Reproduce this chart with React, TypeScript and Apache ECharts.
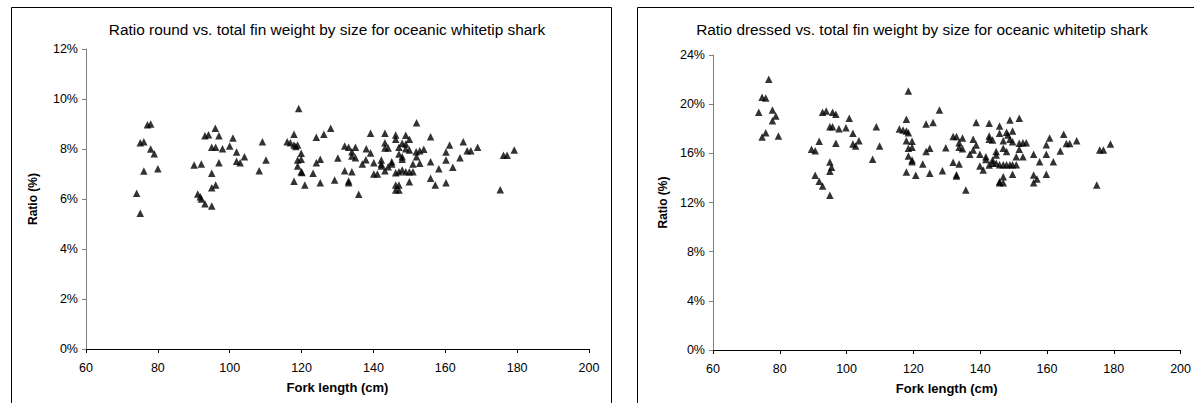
import React, { useEffect, useRef } from "react";
import * as echarts from "echarts";

// Fork length (cm) and ratio (%) – round weight chart
const roundLength = [
  74.1, 75.1, 75.1, 76.1, 76.1, 77.1, 78.0, 78.0, 79.0, 80.0,
  90.1, 92.1, 91.1, 91.8, 92.1, 93.1, 95.0, 93.1, 94.1, 96.0,
  97.0, 95.0, 96.1, 98.0, 95.0, 95.0, 96.1, 97.0, 100.0, 100.9,
  101.9, 101.9, 102.9, 104.1, 108.2, 109.1, 110.1, 116.0, 116.9, 117.9,
  117.9, 118.9, 118.4, 119.9, 118.9, 119.9, 118.9, 119.9, 120.1, 117.9,
  120.9, 123.2, 124.1, 124.1, 125.2, 125.2, 126.2, 128.1, 129.2, 130.1,
  132.0, 133.1, 135.0, 132.0, 133.1, 133.1, 134.0, 134.0, 135.0, 134.0,
  135.9, 119.2, 152.0, 139.2, 143.2, 146.2, 149.0, 146.2, 150.0, 155.9,
  143.2, 148.0, 149.0, 138.0, 143.2, 144.1, 147.1, 149.0, 150.0, 147.1,
  148.0, 148.0, 151.9, 152.9, 154.0, 152.0, 161.2, 165.0, 166.1, 167.1,
  169.0, 160.2, 179.2, 176.2, 177.2, 175.3, 160.2, 164.1, 162.1, 160.2,
  158.2, 157.2, 155.9, 155.9, 136.9, 139.2, 140.1, 140.1, 141.1, 142.2,
  142.2, 142.2, 143.2, 144.1, 145.1, 145.1, 146.2, 147.1, 148.0, 149.0,
  150.0, 151.0, 151.0, 152.9, 150.0, 146.2, 147.1, 146.2, 147.1, 137.9
];
const roundRatio = [
  6.23, 5.43, 8.25, 8.29, 7.12, 8.97, 9.0, 8.0, 7.81, 7.21,
  7.36, 7.4, 6.2, 6.09, 6.0, 5.81, 5.72, 8.53, 8.57, 8.83,
  8.53, 8.07, 8.07, 8.01, 7.03, 6.45, 6.56, 7.45, 8.12, 8.44,
  7.88, 7.51, 7.45, 7.69, 7.13, 8.29, 7.56, 8.29, 8.25, 8.59,
  8.16, 8.16, 8.1, 7.83, 7.56, 7.59, 7.32, 7.09, 7.06, 6.71,
  6.56, 7.03, 8.47, 7.45, 7.59, 6.65, 8.59, 8.83, 6.76, 7.64,
  8.12, 8.07, 8.07, 7.13, 6.72, 6.65, 7.89, 7.72, 7.65, 7.09,
  6.19, 9.62, 9.05, 8.63, 8.63, 8.56, 8.55, 8.39, 8.39, 8.49,
  8.25, 8.23, 8.2, 8.01, 8.04, 8.04, 8.07, 8.01, 7.96, 7.8,
  7.69, 7.59, 7.89, 7.93, 7.99, 7.69, 8.16, 8.29, 7.93, 7.93,
  8.07, 7.88, 7.96, 7.75, 7.75, 6.37, 7.56, 7.65, 7.27, 6.65,
  7.21, 6.56, 6.83, 7.49, 7.4, 7.84, 7.45, 7.0, 7.0, 7.56,
  7.4, 7.32, 7.13, 7.29, 7.49, 7.4, 7.05, 7.09, 7.16, 7.09,
  7.09, 7.09, 7.4, 7.43, 6.69, 6.56, 6.56, 6.36, 6.36, 7.57
];

// Fork length (cm) and ratio (%) – dressed weight chart
const dressedLength = [
  73.7, 74.7, 75.8, 76.7, 77.8, 78.8, 77.8, 75.8, 74.7, 79.6,
  89.5, 90.6, 91.8, 90.6, 91.8, 92.8, 95.0, 95.0, 95.5, 95.0,
  92.8, 93.9, 95.8, 96.8, 95.0, 95.8, 97.7, 96.8, 99.8, 100.8,
  101.9, 101.9, 102.7, 103.7, 107.8, 108.9, 109.9, 115.8, 116.9, 117.9,
  118.5, 117.9, 118.5, 117.9, 119.6, 118.5, 119.6, 118.5, 119.6, 119.6,
  117.9, 120.7, 122.8, 123.8, 124.9, 123.8, 125.9, 124.9, 127.8, 128.7,
  129.7, 131.9, 132.9, 134.7, 133.7, 133.7, 134.7, 131.9, 133.7, 132.9,
  132.9, 135.7, 137.9, 136.9, 138.8, 137.9, 138.8, 139.9, 139.9, 140.9,
  141.7, 141.7, 142.7, 142.7, 143.7, 142.7, 142.7, 143.7, 144.8, 144.8,
  144.8, 143.7, 145.8, 145.8, 146.9, 147.9, 148.3, 148.9, 149.7, 148.9,
  149.7, 146.9, 147.9, 145.8, 146.9, 147.9, 148.9, 149.7, 150.8, 146.9,
  145.8, 146.9, 145.8, 149.7, 150.8, 151.7, 151.7, 152.8, 153.8, 151.7,
  152.8, 156.0, 156.0, 157.0, 156.0, 157.8, 159.8, 159.8, 159.8, 160.8,
  161.9, 164.0, 165.0, 165.8, 166.8, 168.9, 174.9, 175.8, 176.9, 179.0
];
const dressedRatio = [
  19.34, 20.56, 20.5, 22.02, 19.53, 19.04, 18.66, 17.68, 17.33, 17.41,
  16.33, 16.22, 16.98, 14.21, 13.72, 13.34, 12.58, 15.3, 14.86, 14.54,
  19.34, 19.45, 19.34, 19.18, 18.17, 18.17, 18.01, 16.82, 18.09, 18.85,
  17.63, 16.76, 16.6, 17.03, 15.52, 18.17, 16.6, 17.98, 17.9, 17.82,
  17.68, 18.77, 21.07, 17.03, 16.98, 16.41, 16.49, 15.79, 15.46, 15.32,
  14.48, 14.21, 15.13, 16.14, 16.41, 18.39, 18.5, 14.38, 19.53, 14.59,
  16.46, 17.36, 17.36, 17.25, 16.87, 16.49, 16.38, 15.27, 15.13, 14.26,
  14.16, 13.02, 17.14, 15.92, 18.5, 16.27, 16.68, 15.92, 14.97, 14.65,
  15.73, 15.5, 18.45, 17.41, 17.09, 17.14, 15.05, 15.46, 15.87, 16.14,
  15.19, 15.19, 18.23, 17.63, 17.03, 17.71, 17.49, 18.71, 17.82, 17.14,
  16.95, 16.41, 16.14, 15.08, 15.08, 15.08, 15.08, 15.08, 15.08, 14.1,
  13.69, 13.61, 13.61, 14.29, 15.73, 16.33, 16.82, 16.87, 16.87, 18.85,
  15.73, 15.92, 14.24, 13.91, 13.61, 15.32, 16.7, 15.92, 14.29, 17.25,
  15.32, 16.19, 17.55, 16.79, 16.79, 17.03, 13.42, 16.27, 16.27, 16.76
];

const titles = [
  "Ratio round vs. total fin weight by size for oceanic whitetip shark",
  "Ratio dressed vs. total fin weight by size for oceanic whitetip shark",
];
const xAxisTitle = "Fork length (cm)";
const yAxisTitle = "Ratio (%)";

const FONT = "Arial, 'Liberation Sans', sans-serif";

export default function App() {
  const ref = useRef<HTMLDivElement>(null);
  useEffect(() => {
    if (!ref.current) return;
    const chart = echarts.init(ref.current, null, { renderer: "svg" });
    const roundData = roundLength.map((v, i) => [v, roundRatio[i]]);
    const dressedData = dressedLength.map((v, i) => [v, dressedRatio[i]]);

    const xAxisBase = (gridIndex: number) => ({
      type: "value",
      gridIndex,
      min: 60,
      max: 200,
      interval: 20,
      splitLine: { show: false },
      axisLine: { show: true, onZero: false, lineStyle: { color: "#000", width: 1 } },
      axisTick: { show: true, length: 4, lineStyle: { color: "#000" } },
      axisLabel: { color: "#000", fontFamily: FONT, fontSize: 12.5, margin: 12 },
      name: xAxisTitle,
      nameLocation: "middle",
      nameGap: 32,
      nameTextStyle: { color: "#000", fontFamily: FONT, fontSize: 13, fontWeight: "bold" },
    });
    const yAxisBase = (gridIndex: number, max: number, interval: number, gap: number) => ({
      type: "value",
      gridIndex,
      min: 0,
      max,
      interval,
      splitLine: { show: false },
      axisLine: { show: true, lineStyle: { color: "#808080", width: 1 } },
      axisTick: { show: true, length: 4, lineStyle: { color: "#808080" } },
      axisLabel: { color: "#000", fontFamily: FONT, fontSize: 12.5, margin: 8, formatter: "{value}%" },
      name: yAxisTitle,
      nameLocation: "middle",
      nameGap: gap,
      nameRotate: 90,
      nameTextStyle: { color: "#000", fontFamily: FONT, fontSize: 12, fontWeight: "bold" },
    });

    chart.setOption({
      animation: false,
      backgroundColor: "#fff",
      title: [
        {
          text: titles[0],
          left: 322,
          top: 17,
          textAlign: "center",
          textStyle: { color: "#000", fontFamily: FONT, fontSize: 15.4, fontWeight: "normal" },
        },
        {
          text: titles[1],
          left: 917,
          top: 17,
          textAlign: "center",
          textStyle: { color: "#000", fontFamily: FONT, fontSize: 15.4, fontWeight: "normal" },
        },
      ],
      grid: [
        { left: 86, top: 49, width: 503, height: 300 },
        { left: 713, top: 55, width: 471, height: 295 },
      ],
      xAxis: [xAxisBase(0), xAxisBase(1)],
      yAxis: [yAxisBase(0, 12, 2, 47), yAxisBase(1, 24, 4, 44)],
      series: [
        {
          type: "scatter",
          xAxisIndex: 0,
          yAxisIndex: 0,
          data: roundData,
          symbol: "triangle",
          symbolSize: 7.5,
          itemStyle: { color: "#000" },
        },
        {
          type: "scatter",
          xAxisIndex: 1,
          yAxisIndex: 1,
          data: dressedData,
          symbol: "triangle",
          symbolSize: 7.5,
          itemStyle: { color: "#000" },
        },
      ],
      graphic: [
        {
          type: "rect",
          shape: { x: 11.5, y: 7.5, width: 600, height: 430 },
          style: { fill: "none", stroke: "#000", lineWidth: 1 },
          silent: true,
        },
        {
          type: "rect",
          shape: { x: 637.5, y: 7.5, width: 600, height: 430 },
          style: { fill: "none", stroke: "#000", lineWidth: 1 },
          silent: true,
        },
      ],
    });
    return () => chart.dispose();
  }, []);
  return (
    <div
      ref={ref}
      style={{ position: "absolute", left: 0, top: 0, width: 1194, height: 403 }}
    />
  );
}
